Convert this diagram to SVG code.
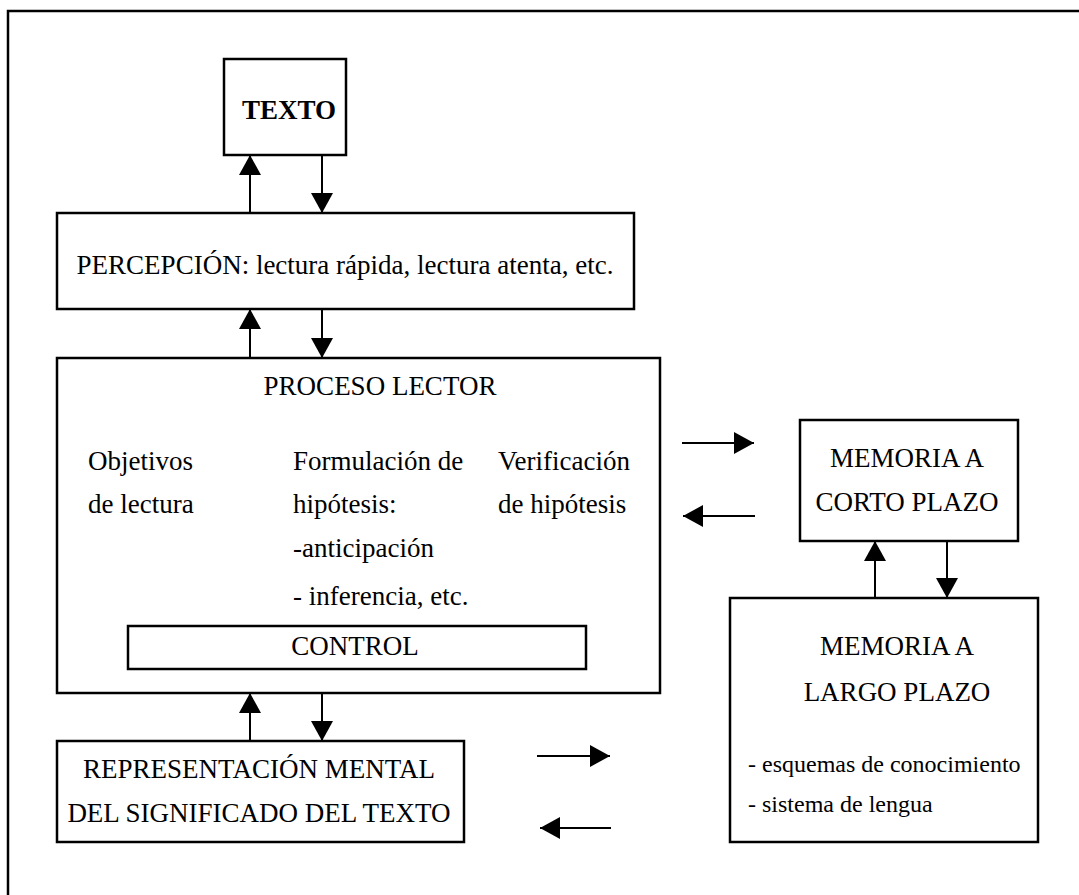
<svg xmlns="http://www.w3.org/2000/svg" width="1079" height="895" viewBox="0 0 1079 895">
<defs>
<marker id="ah" markerWidth="20" markerHeight="22" refX="20" refY="11" orient="auto" markerUnits="userSpaceOnUse">
<path d="M0,0 L20,11 L0,22 Z" fill="#000"/>
</marker>
<style>
.box{fill:#fff;stroke:#000;stroke-width:2.5}
.c{stroke:#000;stroke-width:2;fill:none;marker-end:url(#ah)}
text{font-family:"Liberation Serif","Times New Roman",serif;font-size:27px;fill:#000}
.m{text-anchor:middle}
.s{font-size:24px}
</style>
</defs>
<rect width="1079" height="895" fill="#fff"/>
<rect x="8" y="11" width="1090" height="900" fill="none" stroke="#000" stroke-width="2.5"/>
<g id="texto">
<rect class="box" x="224" y="59" width="122" height="96"/>
<text class="m" x="289" y="119" font-weight="bold">TEXTO</text>
</g>
<g id="percepcion">
<rect class="box" x="57" y="213" width="577" height="96"/>
<text class="m" x="345" y="274">PERCEPCIÓN: lectura rápida, lectura atenta, etc.</text>
</g>
<g id="proceso">
<rect class="box" x="57" y="358" width="603" height="335"/>
<text class="m" x="380" y="395">PROCESO LECTOR</text>
<text x="88" y="470">Objetivos</text>
<text x="88" y="513">de lectura</text>
<text x="293" y="470">Formulación de</text>
<text x="293" y="513">hipótesis:</text>
<text x="293" y="557">-anticipación</text>
<text x="293" y="605">- inferencia, etc.</text>
<text x="498" y="470">Verificación</text>
<text x="498" y="513">de hipótesis</text>
</g>
<g id="control">
<rect class="box" x="128" y="626" width="458" height="43"/>
<text class="m" x="355" y="655">CONTROL</text>
</g>
<g id="corto">
<rect class="box" x="800" y="420" width="218" height="121"/>
<text class="m" x="907" y="467">MEMORIA A</text>
<text class="m" x="907" y="511">CORTO PLAZO</text>
</g>
<g id="largo">
<rect class="box" x="730" y="598" width="308" height="244"/>
<text class="m" x="897" y="655">MEMORIA A</text>
<text class="m" x="897" y="701">LARGO PLAZO</text>
<text class="s" x="748" y="772">- esquemas de conocimiento</text>
<text class="s" x="748" y="812">- sistema de lengua</text>
</g>
<g id="representacion">
<rect class="box" x="57" y="741" width="407" height="101"/>
<text class="m" x="259" y="778">REPRESENTACIÓN MENTAL</text>
<text class="m" x="259" y="822">DEL SIGNIFICADO DEL TEXTO</text>
</g>
<g id="connectors">
<line class="c" x1="250" y1="213" x2="250" y2="155"/>
<line class="c" x1="322" y1="155" x2="322" y2="213"/>
<line class="c" x1="250" y1="358" x2="250" y2="309"/>
<line class="c" x1="322" y1="309" x2="322" y2="358"/>
<line class="c" x1="250" y1="741" x2="250" y2="693"/>
<line class="c" x1="322" y1="693" x2="322" y2="741"/>
<line class="c" x1="682" y1="443" x2="754" y2="443"/>
<line class="c" x1="755" y1="516" x2="683" y2="516"/>
<line class="c" x1="875" y1="598" x2="875" y2="541"/>
<line class="c" x1="947" y1="541" x2="947" y2="598"/>
<line class="c" x1="537" y1="756" x2="610" y2="756"/>
<line class="c" x1="611" y1="828" x2="540" y2="828"/>
</g>
</svg>
